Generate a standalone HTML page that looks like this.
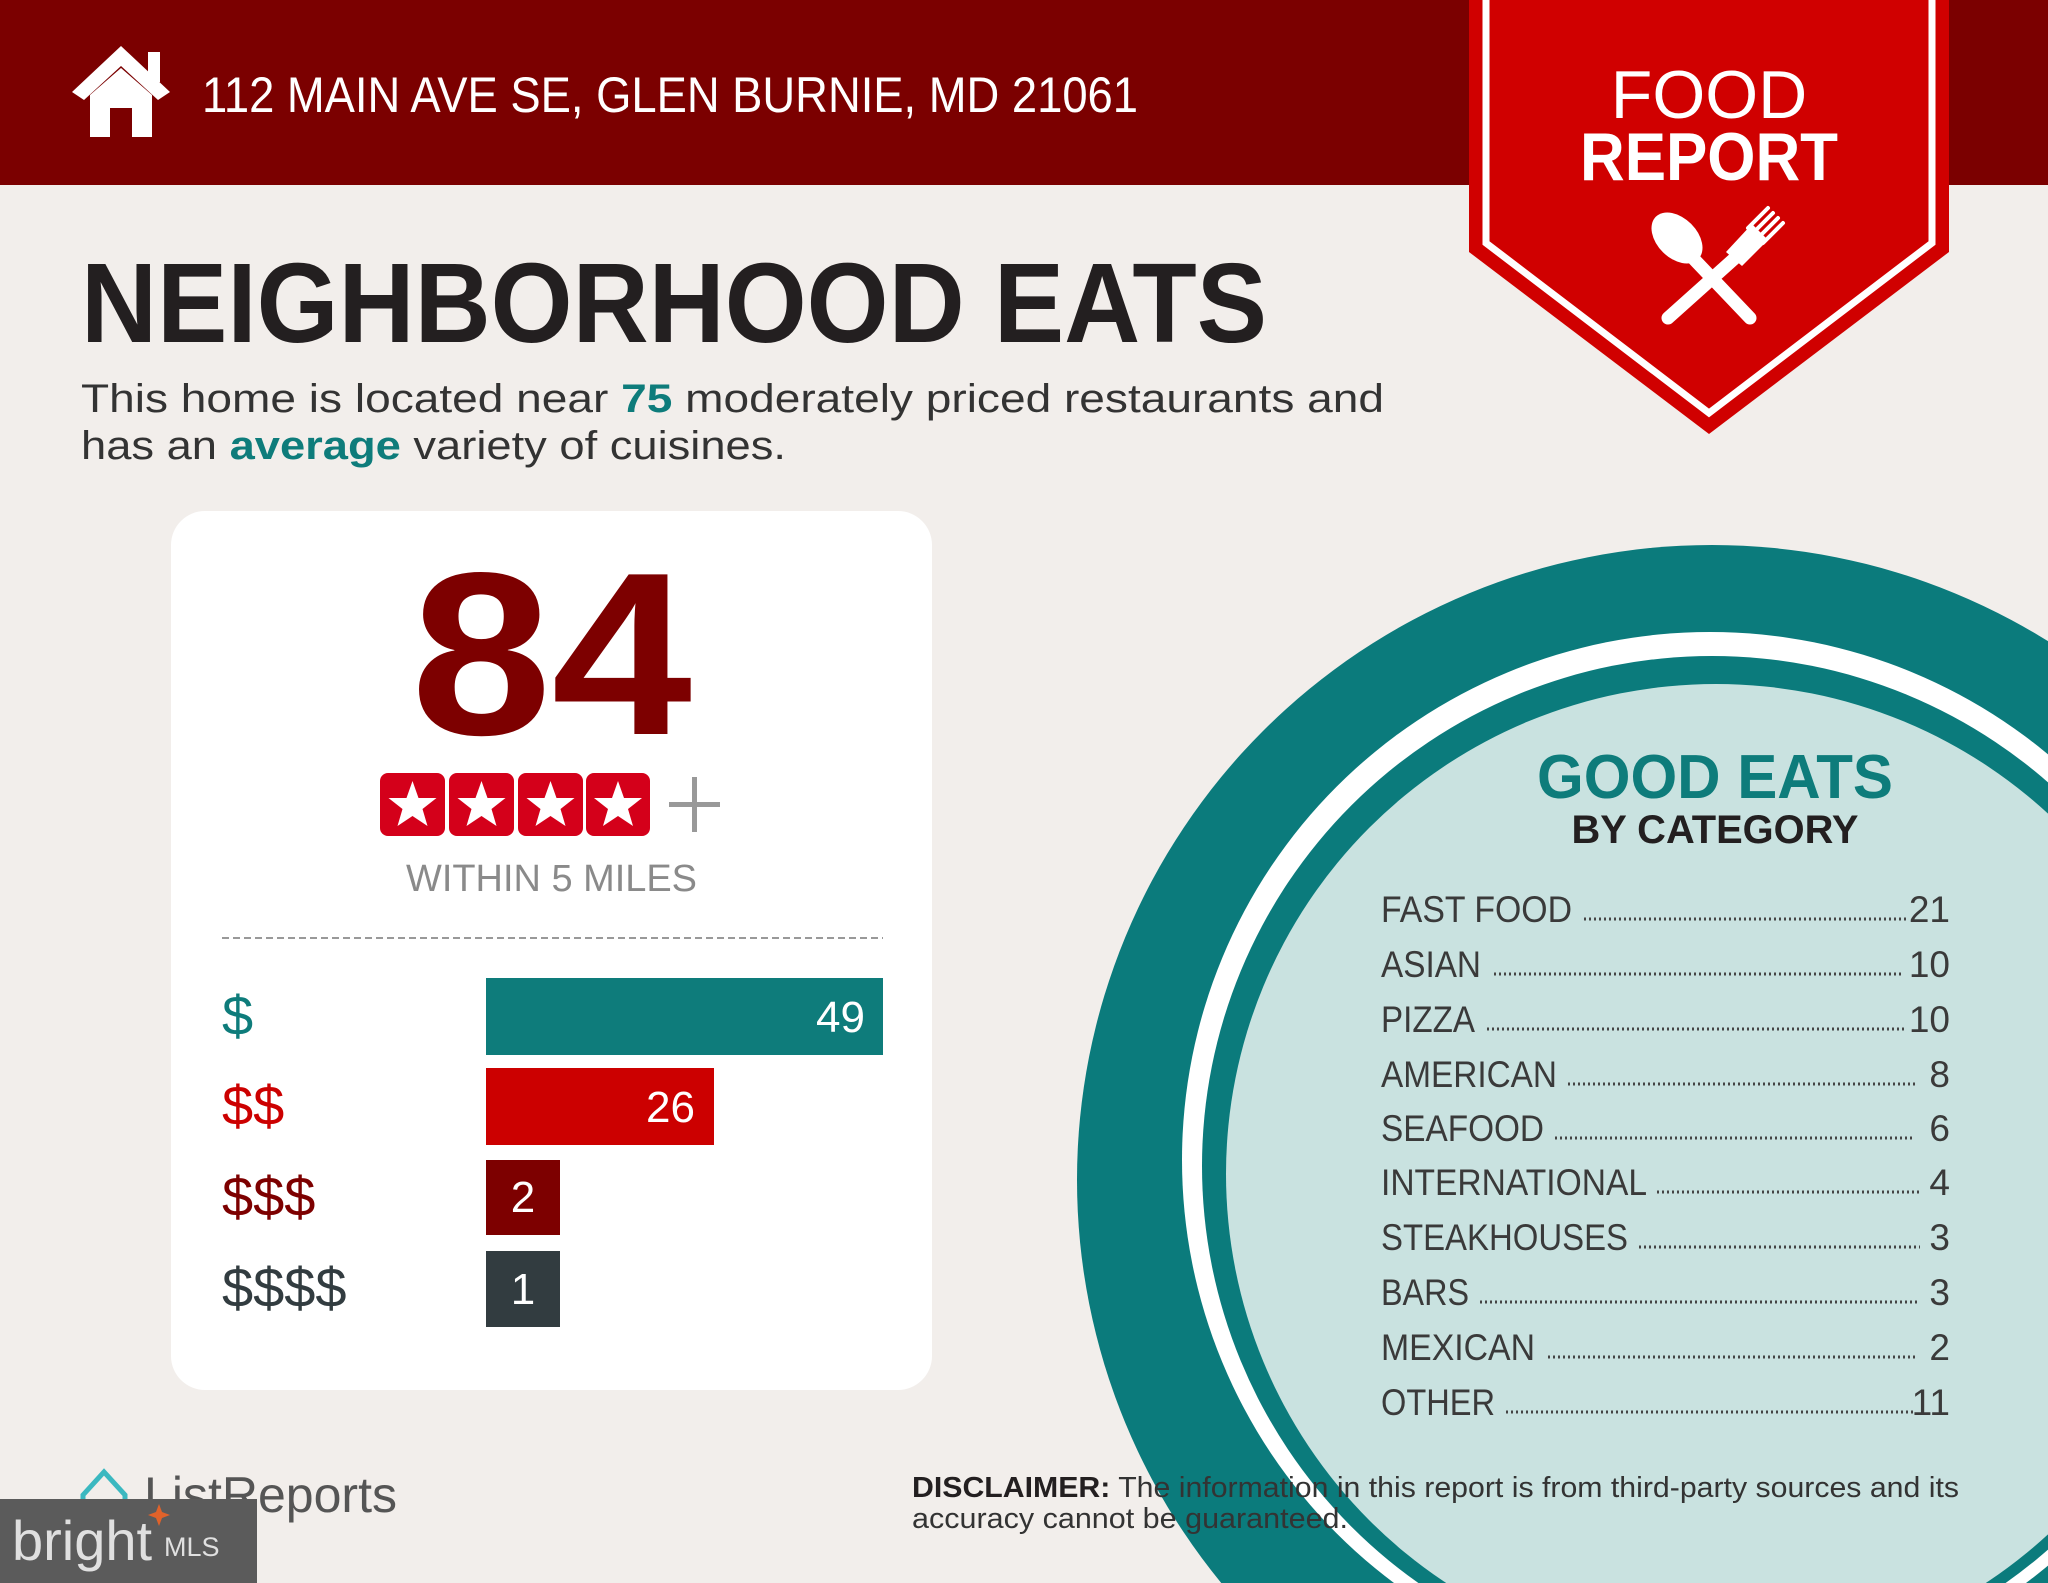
<!DOCTYPE html>
<html><head><meta charset="utf-8"><style>
html,body{margin:0;padding:0;background:#f2eeeb;width:2048px;height:1583px;overflow:hidden}
svg{display:block}
text{font-family:"Liberation Sans",sans-serif}
</style></head><body>
<svg width="2048" height="1583" viewBox="0 0 2048 1583" xmlns="http://www.w3.org/2000/svg">
<rect width="2048" height="1583" fill="#f2eeeb"/>
<!-- header -->
<rect width="2048" height="185" fill="#7b0000"/>
<g fill="#fff">
<polygon points="121,46 72,92 84,100 121,66 158,100 170,92"/>
<rect x="148" y="52" width="12" height="30"/>
<path d="M90,95 L121,68 L152,95 V137 H132 V108 H110 V137 H90 Z"/>
</g>
<text x="202" y="112" font-size="50" fill="#fff" textLength="936" lengthAdjust="spacingAndGlyphs">112 MAIN AVE SE, GLEN BURNIE, MD 21061</text>
<!-- badge -->
<path d="M1469,0 V252 L1709,434 L1949,252 V0 Z" fill="#d00000"/>
<path d="M1486,0 V243 L1709,413 L1932,243 V0" fill="none" stroke="#fff" stroke-width="7"/>
<text x="1709" y="118" font-size="68" fill="#fff" text-anchor="middle">FOOD</text>
<text x="1709" y="180" font-size="68" font-weight="bold" fill="#fff" text-anchor="middle" textLength="258" lengthAdjust="spacingAndGlyphs">REPORT</text>
<g stroke="#fff" stroke-linecap="round" fill="#fff">
<line x1="1690" y1="255" x2="1750" y2="318" stroke-width="13"/>
<ellipse cx="1677" cy="238" rx="20" ry="30" transform="rotate(-45 1677 238)" stroke="none"/>
<line x1="1735" y1="258" x2="1668" y2="318" stroke-width="13"/>
<path d="M1726,252 L1752,224 L1768,240 L1742,266 Z" stroke="none"/>
<line x1="1748" y1="228" x2="1768" y2="208" stroke-width="4"/>
<line x1="1753" y1="233" x2="1773" y2="213" stroke-width="4"/>
<line x1="1758" y1="238" x2="1778" y2="218" stroke-width="4"/>
<line x1="1763" y1="243" x2="1783" y2="223" stroke-width="4"/>
</g>
<!-- title -->
<text x="81" y="342" font-size="113" font-weight="bold" fill="#231f20" textLength="1186" lengthAdjust="spacingAndGlyphs">NEIGHBORHOOD EATS</text>
<text x="81" y="412" font-size="40" fill="#333" textLength="1303" lengthAdjust="spacingAndGlyphs">This home is located near <tspan fill="#0e7c7b" font-weight="bold">75</tspan> moderately priced restaurants and</text>
<text x="81" y="459" font-size="40" fill="#333" textLength="705" lengthAdjust="spacingAndGlyphs">has an <tspan fill="#0e7c7b" font-weight="bold">average</tspan> variety of cuisines.</text>
<!-- circle -->
<circle cx="1712" cy="1180" r="635" fill="#0b7b7c"/>
<circle cx="1710" cy="1160" r="528" fill="#fff"/>
<circle cx="1712" cy="1166" r="510" fill="#0b7b7c"/>
<circle cx="1716" cy="1174" r="490" fill="#c9e2e0"/>
<text x="1715" y="798" font-size="62" font-weight="bold" fill="#0e7c7b" text-anchor="middle" textLength="356" lengthAdjust="spacingAndGlyphs">GOOD EATS</text>
<text x="1715" y="843" font-size="40" font-weight="bold" fill="#231f20" text-anchor="middle" textLength="287" lengthAdjust="spacingAndGlyphs">BY CATEGORY</text>
<g font-size="37" fill="#3a3a3a">
<text x="1381" y="922" textLength="191" lengthAdjust="spacingAndGlyphs">FAST FOOD</text>
<text x="1381" y="977" textLength="100" lengthAdjust="spacingAndGlyphs">ASIAN</text>
<text x="1381" y="1032" textLength="94" lengthAdjust="spacingAndGlyphs">PIZZA</text>
<text x="1381" y="1087" textLength="176" lengthAdjust="spacingAndGlyphs">AMERICAN</text>
<text x="1381" y="1141" textLength="163" lengthAdjust="spacingAndGlyphs">SEAFOOD</text>
<text x="1381" y="1195" textLength="266" lengthAdjust="spacingAndGlyphs">INTERNATIONAL</text>
<text x="1381" y="1250" textLength="247" lengthAdjust="spacingAndGlyphs">STEAKHOUSES</text>
<text x="1381" y="1305" textLength="88" lengthAdjust="spacingAndGlyphs">BARS</text>
<text x="1381" y="1360" textLength="154" lengthAdjust="spacingAndGlyphs">MEXICAN</text>
<text x="1381" y="1415" textLength="114" lengthAdjust="spacingAndGlyphs">OTHER</text>
</g>
<g font-size="37" fill="#3a3a3a" text-anchor="end">
<text x="1950" y="922">21</text><text x="1950" y="977">10</text><text x="1950" y="1032">10</text>
<text x="1950" y="1087">8</text><text x="1950" y="1141">6</text><text x="1950" y="1195">4</text>
<text x="1950" y="1250">3</text><text x="1950" y="1305">3</text><text x="1950" y="1360">2</text>
<text x="1950" y="1415">11</text>
</g>
<g stroke="#444" stroke-width="3" stroke-dasharray="2 3">
<line x1="1584" y1="919" x2="1907" y2="919"/>
<line x1="1494" y1="974" x2="1904" y2="974"/>
<line x1="1487" y1="1029" x2="1904" y2="1029"/>
<line x1="1568" y1="1084" x2="1915" y2="1084"/>
<line x1="1555" y1="1138" x2="1915" y2="1138"/>
<line x1="1657" y1="1192" x2="1920" y2="1192"/>
<line x1="1639" y1="1247" x2="1920" y2="1247"/>
<line x1="1480" y1="1302" x2="1920" y2="1302"/>
<line x1="1548" y1="1357" x2="1915" y2="1357"/>
<line x1="1506" y1="1412" x2="1915" y2="1412"/>
</g>
<!-- card -->
<rect x="171" y="511" width="761" height="879" rx="34" fill="#fff"/>
<text x="411" y="734" font-size="232" font-weight="bold" fill="#7d0000" textLength="281" lengthAdjust="spacingAndGlyphs">84</text>
<g>
<rect x="380" y="773" width="65" height="63" rx="8" fill="#d4001a"/>
<rect x="449" y="773" width="65" height="63" rx="8" fill="#d4001a"/>
<rect x="518" y="773" width="65" height="63" rx="8" fill="#d4001a"/>
<rect x="586" y="773" width="64" height="63" rx="8" fill="#d4001a"/>
<g fill="#fff">
<polygon transform="translate(412.5,806)" points="0,-25 6,-8 24,-8 10,3 15,20 0,10 -15,20 -10,3 -24,-8 -6,-8"/>
<polygon transform="translate(481.5,806)" points="0,-25 6,-8 24,-8 10,3 15,20 0,10 -15,20 -10,3 -24,-8 -6,-8"/>
<polygon transform="translate(550.5,806)" points="0,-25 6,-8 24,-8 10,3 15,20 0,10 -15,20 -10,3 -24,-8 -6,-8"/>
<polygon transform="translate(618,806)" points="0,-25 6,-8 24,-8 10,3 15,20 0,10 -15,20 -10,3 -24,-8 -6,-8"/>
</g>
<rect x="692" y="777" width="5" height="55" fill="#999"/>
<rect x="669" y="802" width="51" height="5" fill="#999"/>
</g>
<text x="406" y="891" font-size="38" fill="#8a8a8a" textLength="291" lengthAdjust="spacingAndGlyphs">WITHIN 5 MILES</text>
<line x1="222" y1="938" x2="883" y2="938" stroke="#999" stroke-width="2" stroke-dasharray="7 4"/>
<g font-size="56">
<text x="222" y="1035" fill="#0e7c7b">$</text>
<text x="222" y="1125" fill="#cc0000">$$</text>
<text x="222" y="1216" fill="#7d0000">$$$</text>
<text x="222" y="1307" fill="#323c40">$$$$</text>
</g>
<rect x="486" y="978" width="397" height="77" fill="#0e7c7b"/>
<rect x="486" y="1068" width="228" height="77" fill="#cc0000"/>
<rect x="486" y="1160" width="74" height="75" fill="#7d0000"/>
<rect x="486" y="1251" width="74" height="76" fill="#323c40"/>
<g font-size="44" fill="#fff">
<text x="865" y="1032" text-anchor="end">49</text>
<text x="695" y="1122" text-anchor="end">26</text>
<text x="523" y="1212" text-anchor="middle">2</text>
<text x="523" y="1304" text-anchor="middle">1</text>
</g>
<!-- footer -->
<text x="912" y="1497" font-size="29" fill="#333" textLength="1047" lengthAdjust="spacingAndGlyphs"><tspan font-weight="bold" fill="#231f20">DISCLAIMER:</tspan> The information in this report is from third-party sources and its</text>
<text x="912" y="1528" font-size="29" fill="#333" textLength="436" lengthAdjust="spacingAndGlyphs">accuracy cannot be guaranteed.</text>
<path d="M83,1495 L104,1472 L125,1495 V1518 H83 Z" fill="none" stroke="#3bb8c0" stroke-width="5"/>
<text x="144" y="1512" font-size="50" fill="#555" textLength="253" lengthAdjust="spacingAndGlyphs">ListReports</text>
<rect x="0" y="1499" width="257" height="84" fill="#5b5b5b"/>
<text x="12" y="1560" font-family="Liberation Serif,serif" font-size="56" fill="#e0e0e0">bright</text>
<text x="164" y="1556" font-size="27" fill="#e0e0e0">MLS</text>
<path d="M156,1512 l3,-8 l3,8 l8,3 l-8,3 l-3,8 l-3,-8 l-8,-3 Z" fill="#e0622a"/>
</svg>
</body></html>
